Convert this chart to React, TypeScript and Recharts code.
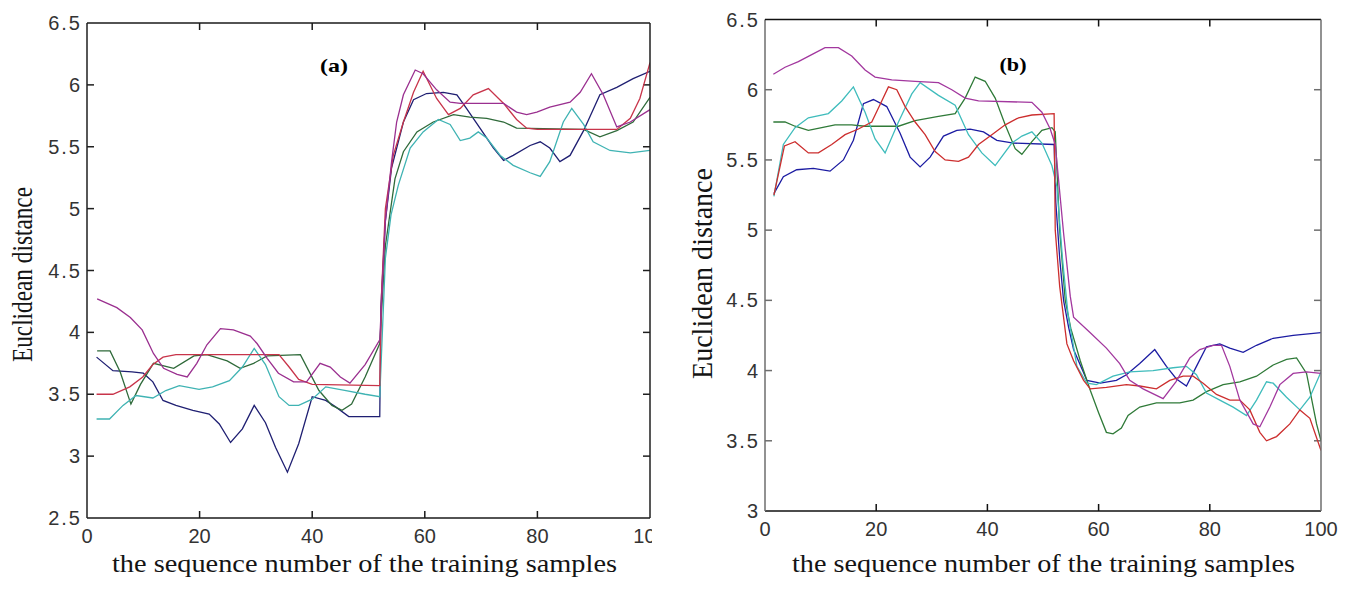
import React from 'react';
import { LineChart, Line, XAxis, YAxis, ReferenceLine } from 'recharts';

type P = [number, number];

// ---- axes / ticks ----
const xTicks = [0, 20, 40, 60, 80, 100];
const yTicksA = [2.5, 3, 3.5, 4, 4.5, 5, 5.5, 6, 6.5];
const yTicksB = [3, 3.5, 4, 4.5, 5, 5.5, 6, 6.5];

// ---- panel (a): [sample number, Euclidean distance] ----
const aBlue: P[] = [[1.7,3.80],[4.6,3.69],[8,3.68],[10,3.67],[11.7,3.60],[13.5,3.45],[15.8,3.41],[18.8,3.37],[21.7,3.34],[23.5,3.26],[25.5,3.11],[27.6,3.22],[29.7,3.41],[31.7,3.27],[33.5,3.07],[35.6,2.87],[37.6,3.10],[40,3.48],[42.4,3.45],[44.1,3.40],[46.5,3.32],[52,3.32],[52.2,4.2],[53,4.9],[54.1,5.33],[56.2,5.70],[58,5.88],[60.3,5.93],[63.3,5.94],[65.7,5.92],[67.4,5.81],[69.8,5.65],[72.2,5.49],[74,5.39],[75.7,5.43],[78.7,5.51],[80.5,5.54],[82.2,5.49],[84,5.38],[85.8,5.43],[88.2,5.63],[91.1,5.92],[94.1,5.98],[97,6.05],[100,6.11]];
const aRed: P[] = [[1.7,3.50],[4.6,3.50],[7.6,3.56],[9.9,3.64],[11.7,3.74],[13.5,3.80],[15.8,3.82],[34.1,3.82],[35.9,3.72],[37.6,3.62],[40,3.58],[52,3.57],[52.3,4.3],[53,5.0],[54.4,5.43],[56.2,5.70],[58,5.94],[59.7,6.11],[62.1,5.89],[64.2,5.76],[66.3,5.81],[68.6,5.92],[71.3,5.97],[74,5.85],[76.3,5.72],[78.1,5.65],[80,5.64],[94.1,5.64],[96.5,5.73],[98.2,5.89],[100,6.18]];
const aMagenta: P[] = [[1.8,4.27],[5.3,4.20],[7.7,4.12],[9.8,4.02],[11.8,3.83],[13.6,3.71],[16,3.66],[17.8,3.64],[19.5,3.75],[21.3,3.90],[23.7,4.03],[26,4.02],[29,3.97],[30.2,3.91],[32,3.79],[34,3.67],[36.7,3.60],[39,3.60],[41.4,3.75],[43.2,3.72],[45,3.64],[46.7,3.59],[49.4,3.74],[52,3.94],[53,4.9],[54.1,5.38],[55,5.70],[56.2,5.92],[58.3,6.12],[59.7,6.09],[62.1,5.96],[64.5,5.86],[66.3,5.85],[74,5.85],[76.3,5.78],[78.1,5.76],[79.9,5.78],[82.2,5.82],[85.8,5.86],[87.6,5.94],[89.6,6.09],[91.7,5.92],[94.1,5.66],[96.5,5.70],[100,5.80]];
const aGreen: P[] = [[1.8,3.85],[4.1,3.85],[5.9,3.68],[7.8,3.42],[9.5,3.58],[11.8,3.75],[15.4,3.71],[19,3.81],[21.3,3.82],[24.9,3.77],[27.2,3.71],[29.6,3.75],[32,3.81],[37.9,3.82],[41.2,3.53],[43.5,3.41],[45.3,3.37],[47,3.42],[49.4,3.64],[52,3.91],[53,4.7],[54.7,5.24],[56.2,5.46],[58.6,5.62],[61.5,5.70],[65.1,5.76],[68,5.74],[71,5.73],[74,5.70],[76.3,5.65],[88.2,5.64],[91.1,5.58],[94.1,5.63],[97,5.70],[100,5.90]];
const aCyan: P[] = [[1.7,3.30],[4,3.30],[6.4,3.41],[8.7,3.49],[11.7,3.47],[14,3.53],[16.4,3.57],[19.9,3.54],[22.3,3.56],[25.3,3.61],[27.6,3.72],[29.7,3.87],[31.7,3.74],[34.1,3.48],[35.9,3.41],[37.6,3.41],[40,3.46],[42.4,3.56],[46,3.53],[49.4,3.50],[52,3.48],[53,4.6],[54,4.95],[55.3,5.19],[57.4,5.49],[59.7,5.62],[62.4,5.72],[64.5,5.68],[66.3,5.55],[68,5.57],[69.5,5.62],[71,5.57],[73.4,5.43],[75.7,5.35],[78.7,5.29],[80.5,5.26],[82.2,5.38],[84.6,5.70],[86.1,5.81],[88.2,5.68],[89.9,5.54],[92.9,5.47],[96.5,5.45],[100,5.47]];

// ---- panel (b) ----
const bBlue: P[] = [[1.6,5.26],[3.3,5.38],[5.7,5.43],[8.7,5.44],[11.7,5.42],[14.1,5.50],[15.9,5.64],[17.7,5.90],[19.5,5.93],[21.9,5.88],[24.3,5.69],[26.1,5.52],[27.9,5.45],[29.7,5.52],[32.1,5.67],[34.5,5.71],[36.9,5.72],[39.3,5.70],[41.7,5.64],[44.7,5.62],[52,5.61],[52.3,5.2],[53,4.8],[53.7,4.5],[54.6,4.31],[55.5,4.15],[57.9,3.93],[60.3,3.91],[63.2,3.93],[65,3.97],[67.4,4.05],[70.1,4.15],[72.2,4.03],[74,3.94],[75.8,3.89],[77.6,4.03],[79.4,4.17],[81.8,4.19],[83.6,4.16],[86,4.13],[88.4,4.18],[91.4,4.23],[95,4.25],[100,4.27]];
const bRed: P[] = [[1.6,5.25],[3.5,5.60],[5.4,5.63],[7.8,5.55],[9.6,5.55],[12,5.61],[14.4,5.68],[16.8,5.72],[19.2,5.77],[21,5.92],[22.2,6.02],[23.7,6.0],[25.2,5.88],[27,5.77],[28.8,5.68],[30.6,5.56],[32.4,5.50],[34.8,5.49],[36.6,5.52],[38.4,5.61],[40.8,5.68],[43.2,5.75],[45.6,5.80],[48,5.82],[52,5.83],[52.2,5.0],[53,4.6],[54.3,4.19],[55.5,4.07],[57.3,3.93],[58.5,3.87],[61.4,3.88],[65,3.90],[67.4,3.89],[70.4,3.87],[72.8,3.93],[75.2,3.96],[77,3.96],[78.8,3.91],[81.2,3.83],[83.6,3.79],[85.4,3.79],[87.2,3.72],[89,3.56],[90.2,3.50],[92,3.53],[94.4,3.62],[96.2,3.72],[98,3.66],[100,3.43]];
const bGreen: P[] = [[1.5,5.77],[3.6,5.77],[5.4,5.74],[7.8,5.71],[10.2,5.73],[12.6,5.75],[15.6,5.75],[18,5.74],[24,5.74],[27,5.78],[31.2,5.81],[34.2,5.83],[36,5.94],[37.8,6.09],[39.6,6.06],[41.4,5.94],[43.2,5.75],[45,5.58],[46.2,5.54],[48,5.63],[49.8,5.71],[51.6,5.73],[52.2,5.70],[53,5.0],[54,4.5],[55,4.3],[56.7,4.07],[58.5,3.86],[60,3.70],[61.4,3.56],[62.6,3.55],[64.1,3.59],[65.3,3.68],[67.4,3.74],[70.4,3.77],[74.6,3.77],[77,3.79],[79.4,3.85],[82.4,3.90],[85.4,3.92],[88.4,3.96],[91.4,4.04],[93.8,4.08],[95.6,4.09],[97.4,3.98],[99.2,3.62],[100,3.50]];
const bCyan: P[] = [[1.6,5.24],[3.3,5.61],[5.4,5.73],[7.8,5.80],[11.4,5.83],[13.8,5.92],[15.9,6.02],[18,5.84],[19.8,5.65],[21.6,5.55],[24,5.77],[26.4,5.97],[27.9,6.05],[31.2,5.96],[34.2,5.89],[36.6,5.68],[39,5.55],[41.4,5.46],[44.4,5.62],[46.2,5.67],[48,5.70],[49.8,5.62],[51.6,5.46],[52.5,5.31],[53.5,4.8],[54.5,4.4],[56.1,4.03],[57.9,3.91],[59.6,3.90],[62.6,3.96],[65.6,3.99],[69.8,4.0],[73.4,4.02],[75.8,4.03],[77.6,3.97],[79.4,3.84],[81.8,3.79],[84.2,3.74],[86.6,3.68],[88.4,3.79],[90.2,3.92],[91.4,3.91],[93.8,3.81],[96.2,3.72],[98,3.81],[100,3.99]];
const bMagenta: P[] = [[1.5,6.11],[3.6,6.16],[6,6.20],[8.4,6.25],[10.8,6.30],[13.2,6.30],[15.6,6.24],[18,6.14],[19.8,6.09],[22.8,6.07],[27,6.06],[31.2,6.05],[33.6,6.0],[36,5.94],[38.4,5.92],[48,5.91],[49.8,5.84],[51.3,5.72],[52.2,5.61],[53.7,4.98],[54.9,4.53],[55.5,4.38],[58.5,4.27],[61.4,4.16],[63.8,4.05],[65.6,3.93],[68,3.87],[71.6,3.80],[73.9,3.92],[76.4,4.09],[78.2,4.15],[80.6,4.18],[82.1,4.18],[83.6,4.03],[85.4,3.79],[87.8,3.62],[89,3.60],[90.8,3.74],[92.6,3.90],[95,3.98],[97.4,3.99],[100,3.98]];

const toPts = (arr: P[]) => arr.map(([x, y]) => ({ x, y }));

const seriesA = [
  { name: 'blue', pts: aBlue, color: '#1f1f72' },
  { name: 'green', pts: aGreen, color: '#2f6a3a' },
  { name: 'cyan', pts: aCyan, color: '#3fb3b3' },
  { name: 'red', pts: aRed, color: '#c8344a' },
  { name: 'magenta', pts: aMagenta, color: '#9a2f8f' },
];
const seriesB = [
  { name: 'blue', pts: bBlue, color: '#1c1ca2' },
  { name: 'green', pts: bGreen, color: '#2f7a38' },
  { name: 'cyan', pts: bCyan, color: '#3fbcbc' },
  { name: 'red', pts: bRed, color: '#cc2e2e' },
  { name: 'magenta', pts: bMagenta, color: '#a2379e' },
];

const SANS = "Liberation Sans, Arial, Helvetica, sans-serif";
const SERIF = "Liberation Serif, Times New Roman, serif";
const TICK_PX = 7;

const XTick = (p: any) => (
  <text x={p.x} y={p.y + 25} textAnchor="middle" fontFamily={SANS} fontSize={20} fill="#333">
    {p.payload.value}
  </text>
);
const YTick = (p: any) => (
  <text x={p.x - 5} y={p.y + 7} textAnchor="end" fontFamily={SANS} fontSize={20} letterSpacing={2} fill="#333">
    {p.payload.value}
  </text>
);

function Panel(props: any) {
  const { width, height, margin, yDomain, yTicks, series, hColor, vColor } = props;
  const [y0, y1] = yDomain;
  const plotW = width - margin.left - margin.right - 60;
  const plotH = height - margin.top - margin.bottom - 30;
  // inward tick length, expressed in data units of each axis
  const dx = (TICK_PX * 100) / plotW;
  const dy = (TICK_PX * (y1 - y0)) / plotH;
  const innerX = xTicks.filter((t) => t > 0 && t < 100);
  const innerY = yTicks.filter((t: number) => t > y0 && t < y1);
  const ref = toPts(series[0].pts);
  const tickProps = { xAxisId: 'b', yAxisId: 'l', strokeWidth: 1.5, ifOverflow: 'visible' as const };
  return (
    <LineChart width={width} height={height} margin={margin}>
      <XAxis xAxisId="b" type="number" dataKey="x" domain={[0, 100]} allowDataOverflow ticks={xTicks} interval={0}
        height={30} tickLine={false} tickSize={0} tickMargin={0} stroke={hColor} strokeWidth={1.5} tick={XTick} />
      <YAxis yAxisId="l" type="number" domain={yDomain} allowDataOverflow ticks={yTicks} interval={0}
        width={60} tickLine={false} tickSize={0} tickMargin={0} stroke={vColor} strokeWidth={1.5} tick={YTick} />
      <XAxis xAxisId="t" orientation="top" mirror type="number" dataKey="x" domain={[0, 100]} allowDataOverflow ticks={xTicks}
        tick={false} tickLine={false} stroke={hColor} strokeWidth={1.5} />
      <YAxis yAxisId="r" orientation="right" mirror type="number" domain={yDomain} allowDataOverflow ticks={yTicks}
        tick={false} tickLine={false} stroke={vColor} strokeWidth={1.5} />
      <Line xAxisId="t" yAxisId="r" data={ref} dataKey="y" stroke="none" dot={false} activeDot={false} isAnimationActive={false} />
      {innerX.map((t) => (
        <ReferenceLine key={'xb' + t} {...tickProps} stroke={hColor} segment={[{ x: t, y: y0 }, { x: t, y: y0 + dy }]} />
      ))}
      {innerX.map((t) => (
        <ReferenceLine key={'xt' + t} {...tickProps} stroke={hColor} segment={[{ x: t, y: y1 }, { x: t, y: y1 - dy }]} />
      ))}
      {innerY.map((t: number) => (
        <ReferenceLine key={'yl' + t} {...tickProps} stroke={vColor} segment={[{ x: 0, y: t }, { x: dx, y: t }]} />
      ))}
      {innerY.map((t: number) => (
        <ReferenceLine key={'yr' + t} {...tickProps} stroke={vColor} segment={[{ x: 100, y: t }, { x: 100 - dx, y: t }]} />
      ))}
      {series.map((s: any) => (
        <Line key={s.name} xAxisId="b" yAxisId="l" data={toPts(s.pts)} dataKey="y" type="linear"
          stroke={s.color} strokeWidth={1.3} dot={false} activeDot={false} isAnimationActive={false} />
      ))}
    </LineChart>
  );
}

export default function App() {
  return (
    <div style={{ position: 'absolute', left: 0, top: 0, width: 1348, height: 589, background: '#fff', overflow: 'hidden' }}>
      <div style={{ position: 'absolute', left: 0, top: 0 }}>
        <Panel width={652} height={589} margin={{ top: 23, right: 2, bottom: 41, left: 27 }}
          yDomain={[2.5, 6.5]} yTicks={yTicksA} series={seriesA} hColor="#1a1a1a" vColor="#1f1f1f" />
      </div>
      <div style={{ position: 'absolute', left: 676, top: 0 }}>
        <Panel width={672} height={589} margin={{ top: 19.5, right: 27, bottom: 48, left: 29 }}
          yDomain={[3, 6.5]} yTicks={yTicksB} series={seriesB} hColor="#111" vColor="#6e6e6e" />
      </div>
      <svg width={1348} height={589} style={{ position: 'absolute', left: 0, top: 0, pointerEvents: 'none' }}>
        <text x={334} y={72} textAnchor="middle" fontFamily={SERIF} fontWeight="bold" fontSize={19} textLength={28} lengthAdjust="spacingAndGlyphs" fill="#000">(a)</text>
        <text x={1013} y={71} textAnchor="middle" fontFamily={SERIF} fontWeight="bold" fontSize={19} textLength={27} lengthAdjust="spacingAndGlyphs" fill="#000">(b)</text>
        <text x={364.5} y={572} textAnchor="middle" fontFamily={SERIF} fontSize={25} textLength={505} lengthAdjust="spacingAndGlyphs" fill="#141414">the sequence number of the training samples</text>
        <text x={1043.5} y={572} textAnchor="middle" fontFamily={SERIF} fontSize={26} textLength={503} lengthAdjust="spacingAndGlyphs" fill="#141414">the sequence number of the training samples</text>
        <text transform="translate(32,274.5) rotate(-90)" textAnchor="middle" fontFamily={SERIF} fontSize={30} textLength={175} lengthAdjust="spacingAndGlyphs" fill="#141414">Euclidean distance</text>
        <text transform="translate(712,273.5) rotate(-90)" textAnchor="middle" fontFamily={SERIF} fontSize={30} textLength={211} lengthAdjust="spacingAndGlyphs" fill="#141414">Euclidean distance</text>
      </svg>
    </div>
  );
}
